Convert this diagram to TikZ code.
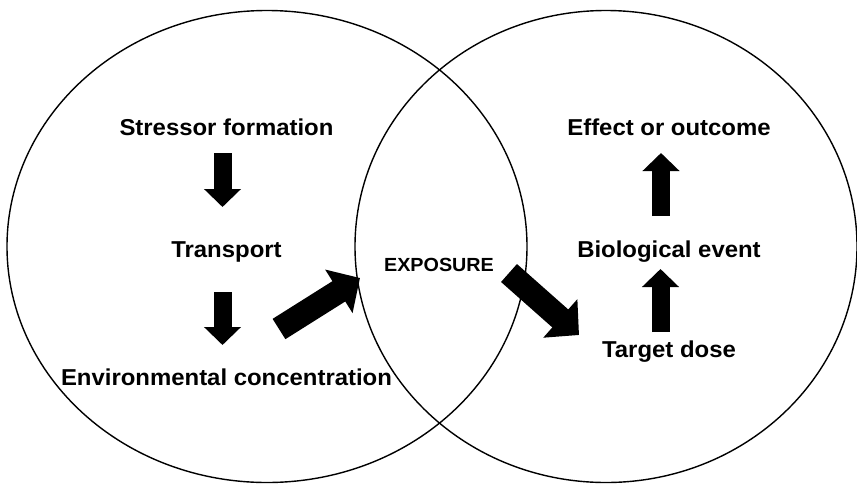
\documentclass[tikz,border=0pt]{standalone}
\usepackage{fontspec}
\setmainfont{Liberation Sans}
\newfontfamily\stagefont[FakeStretch=1.04]{Liberation Sans}
\usetikzlibrary{arrows.meta}

\tikzset{
  stage/.style={font=\stagefont\bfseries\fontsize{23}{26}\selectfont, inner sep=0pt},
  hub/.style={font=\stagefont\bfseries\fontsize{19}{22}\selectfont, inner sep=0pt},
  sphere/.style={line width=1.4pt, draw=black},
  blockarrow/.style={line width=18pt, draw=black,
    -{Triangle[width=36pt, length=18pt]}},
  widearrow/.style={line width=24pt, draw=black,
    -{Triangle[width=50pt, length=25pt]}},
}

\begin{document}
\begin{tikzpicture}[x=1pt, y=-1pt]
  \useasboundingbox (0,0) rectangle (857,483);

  % the two overlapping domains
  \draw[sphere] (267,246.5) ellipse [x radius=260, y radius=236];
  \draw[sphere] (606,246.5) ellipse [x radius=251, y radius=236];

  % source side
  \node[stage] (form) at (226.5,127) {Stressor formation};
  \node[stage] (trans) at (226.5,252) {Transport};
  \node[stage] (conc) at (226.5,377) {Environmental concentration};

  % overlap
  \node[hub] (expo) at (439,265) {EXPOSURE};

  % receptor side
  \node[stage] (effect) at (669,127) {Effect or outcome};
  \node[stage] (bio) at (669,252) {Biological event};
  \node[stage] (dose) at (669,352) {Target dose};

  % arrow end points
  \coordinate (a1s) at (222.5,153);
  \coordinate (a1e) at (222.5,207);
  \coordinate (a2s) at (222.5,292);
  \coordinate (a2e) at (222.5,345);
  \coordinate (a3s) at (279,329);
  \coordinate (a3e) at (360,278);
  \coordinate (a4s) at (509,273);
  \coordinate (a4e) at (579,335);
  \coordinate (a5s) at (660.5,332);
  \coordinate (a5e) at (660.5,269);
  \coordinate (a6s) at (661,216);
  \coordinate (a6e) at (661,153);

  \draw[blockarrow] (a1s) -- (a1e);
  \draw[blockarrow] (a2s) -- (a2e);
  \draw[widearrow] (a3s) -- (a3e);
  \draw[widearrow] (a4s) -- (a4e);
  \draw[blockarrow] (a5s) -- (a5e);
  \draw[blockarrow] (a6s) -- (a6e);
\end{tikzpicture}
\end{document}
